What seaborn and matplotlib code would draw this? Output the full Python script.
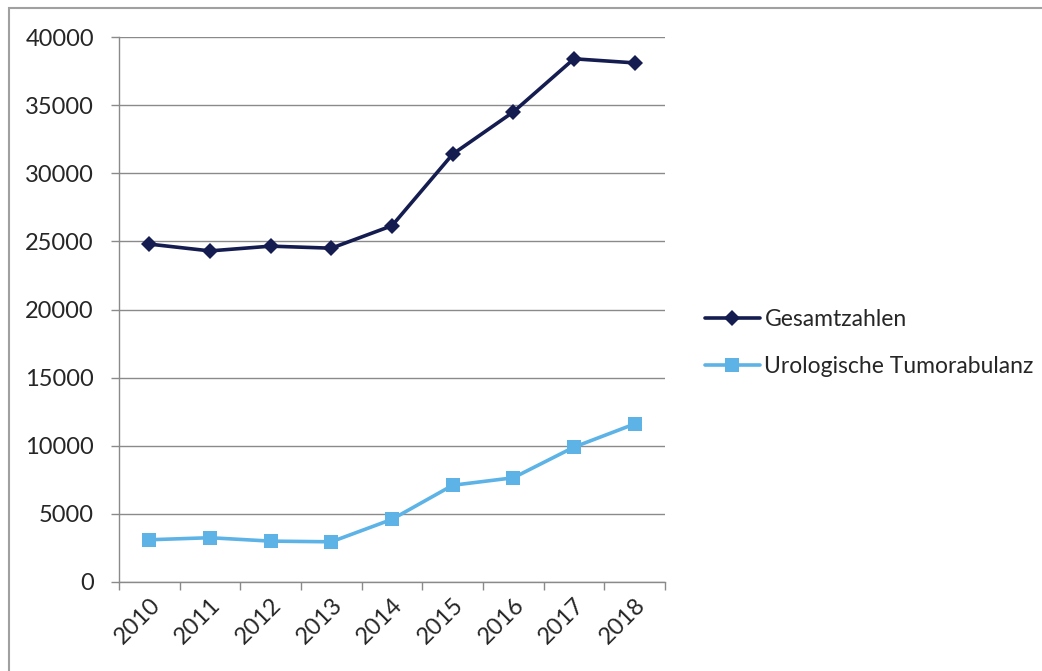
import pandas as pd
import matplotlib.pyplot as plt
import matplotlib.patches as mpatches
import seaborn as sns

# Daten
years = ['2010', '2011', '2012', '2013', '2014', '2015', '2016', '2017', '2018']
gesamt = [24800, 24300, 24650, 24500, 26150, 31400, 34500, 38400, 38100]
uro = [3100, 3250, 3000, 2950, 4600, 7100, 7650, 9900, 11600]
series_names = ['Gesamtzahlen', 'Urologische Tumorabulanz']

df = pd.DataFrame({
    'Jahr': years * 2,
    'Wert': gesamt + uro,
    'Serie': [series_names[0]] * len(years) + [series_names[1]] * len(years),
})

sns.set_style('white')
plt.rcParams['font.family'] = ['Lato', 'DejaVu Sans']

fig = plt.figure(figsize=(10.42, 6.71), dpi=100)
ax = fig.add_axes([119 / 1042, 89 / 671, 546 / 1042, 545 / 671])

colors = {series_names[0]: '#141c50', series_names[1]: '#5db3e6'}
sns.lineplot(data=df, x='Jahr', y='Wert', hue='Serie', style='Serie',
             palette=colors, markers={series_names[0]: 'D', series_names[1]: 's'},
             dashes=False, linewidth=2.6, markersize=8, markeredgewidth=0,
             ax=ax, sort=False)

# Quadrat-Marker etwas größer
for line in ax.lines:
    if line.get_marker() == 's':
        line.set_markersize(9.5)

ax.set_ylim(0, 40000)
ax.set_xlim(-0.5, len(years) - 0.5)
ax.set_yticks(range(0, 40001, 5000))
ax.yaxis.grid(True, color='#8a8a8a', linewidth=1.0)
ax.xaxis.grid(False)

# Kategorie-Ticks zwischen den Jahren
ax.set_xticks([i - 0.5 for i in range(len(years) + 1)], minor=False)
ax.set_xticklabels([])
ax.set_xticks(range(len(years)), minor=True)
ax.set_xticklabels(years, minor=True, rotation=45, ha='right',
                   rotation_mode='anchor', fontsize=17)
ax.tick_params(axis='x', which='minor', length=0, pad=9)
ax.tick_params(axis='x', which='major', length=6, color='#8a8a8a', width=1,
               direction='out', bottom=True)
ax.tick_params(axis='y', length=6, color='#8a8a8a', width=1, direction='out',
               left=True, labelsize=17, pad=12)

for s in ['top', 'right']:
    ax.spines[s].set_visible(False)
for s in ['left', 'bottom']:
    ax.spines[s].set_color('#8a8a8a')
    ax.spines[s].set_linewidth(1.0)

ax.set_xlabel('')
ax.set_ylabel('')

handles, labels = ax.get_legend_handles_labels()
ax.legend(handles, labels, loc='center left', bbox_to_anchor=(1.073, 0.438),
          frameon=False, fontsize=16.5, handlelength=2.4, labelspacing=1.15,
          handletextpad=0.2, borderaxespad=0, borderpad=0)

# Rahmen um das Diagramm
fig.patches.append(mpatches.Rectangle((9 / 1042, -0.05), 1.2, (671 - 8) / 671 + 0.05,
                                      transform=fig.transFigure, fill=False,
                                      edgecolor='#a0a0a0', linewidth=1.5))

fig.savefig('out.png', dpi=100)
